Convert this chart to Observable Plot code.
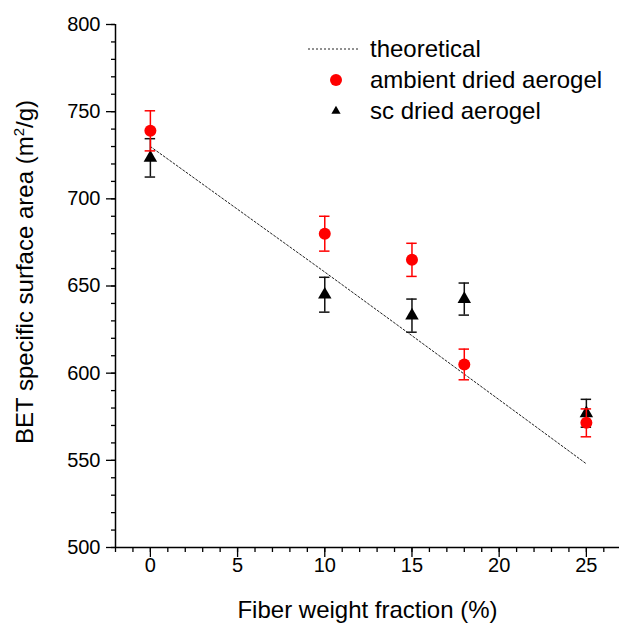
<!DOCTYPE html>
<html>
<head>
<meta charset="utf-8">
<script src="https://cdn.jsdelivr.net/npm/d3@7"></script>
<script src="https://cdn.jsdelivr.net/npm/@observablehq/plot@0.6"></script>
<style>
  html, body { margin: 0; padding: 0; background: #fff; }
  #wrap { position: relative; width: 619px; height: 624px; font-family: "Liberation Sans", Arial, sans-serif; }
  #wrap svg { font-family: "Liberation Sans", Arial, sans-serif; }
  #wrap svg g[aria-label="y-axis label"] text, #wrap svg g[aria-label="x-axis label"] text { font-size: 24px; }
  #legend { position: absolute; left: 300px; top: 33px; font-size: 24px; color: #000; }
  #legend .row { display: flex; align-items: center; height: 31px; }
  #legend svg { width: 66px; height: 20px; }
</style>
</head>
<body>
<div id="wrap"></div>
<script>
// ---- data ----
const fiberFraction = [0, 10, 15, 18, 25];
const ambientArea   = [739, 680, 665, 605, 571.5];
const ambientErr    = [11.5, 10, 9.5, 8.8, 8];
const scArea        = [723.5, 645, 633, 642.5, 577];
const scErr         = [11, 10, 9.5, 9.2, 8];
const theoryX       = [0, 10, 15, 25];
const theoryY       = [730, 658, 621.5, 548];
const xMajorTicks   = [0, 5, 10, 15, 20, 25];
const yMajorTicks   = [500, 550, 600, 650, 700, 750, 800];
const xDomain       = [-2, 26.9];
const yDomain       = [500, 800];

const ambient = fiberFraction.map((x, i) => ({x, y: ambientArea[i], e: ambientErr[i]}));
const sc = fiberFraction.map((x, i) => ({x, y: scArea[i], e: scErr[i]}));
const theory = theoryX.map((x, i) => ({x, y: theoryY[i]}));
const xMinor = d3.range(-2, 27, 1);
const yMinor = d3.range(500, 801, 10);
const capHalf = 0.3;
const red = "#ff0000";

function errMarks(data, color) {
  return [
    Plot.ruleX(data, {x: "x", y1: d => d.y - d.e, y2: d => d.y + d.e, stroke: color, strokeWidth: 1.5}),
    Plot.ruleY(data, {y: d => d.y + d.e, x1: d => d.x - capHalf, x2: d => d.x + capHalf, stroke: color, strokeWidth: 1.5}),
    Plot.ruleY(data, {y: d => d.y - d.e, x1: d => d.x - capHalf, x2: d => d.x + capHalf, stroke: color, strokeWidth: 1.5})
  ];
}

const chart = Plot.plot({
  width: 619,
  height: 624,
  marginLeft: 115,
  marginRight: 0,
  marginTop: 24,
  marginBottom: 77,
  style: {fontFamily: "Liberation Sans, Arial, sans-serif", color: "#000", background: "#fff"},
  x: {domain: xDomain},
  y: {domain: yDomain},
  marks: [
    Plot.axisY(yMinor, {tickSize: 4, tickFormat: () => "", label: null, strokeWidth: 1.3}),
    Plot.axisY(yMajorTicks, {tickSize: 9, tickPadding: 6, strokeWidth: 1.3, fontSize: 20,
      label: "BET specific surface area (m2/g)", labelAnchor: "center", labelArrow: "none", labelOffset: 100}),
    Plot.axisX(xMinor, {tickSize: 5, tickFormat: () => "", label: null, strokeWidth: 1.3}),
    Plot.axisX(xMajorTicks, {tickSize: 10, tickPadding: 0, strokeWidth: 1.3, fontSize: 20,
      label: "Fiber weight fraction (%)", labelAnchor: "center", labelArrow: "none", labelOffset: 70}),
    Plot.ruleX([xDomain[0]], {stroke: "#000", strokeWidth: 1.5}),
    Plot.ruleY([yDomain[0]], {stroke: "#000", strokeWidth: 1.5}),
    Plot.line(theory, {x: "x", y: "y", stroke: "#222", strokeWidth: 1, strokeDasharray: "2,2"}),
    ...errMarks(sc, "#111"),
    Plot.dot(sc, {x: "x", y: "y", symbol: "triangle", r: 5, fill: "#000", stroke: "none"}),
    ...errMarks(ambient, red),
    Plot.dot(ambient, {x: "x", y: "y", symbol: "circle", r: 6, fill: red, stroke: "none"})
  ]
});

// force tick-label size
chart.querySelectorAll('g[aria-label$="tick label"]').forEach(g => {
  g.setAttribute("font-size", "20");
  g.querySelectorAll("text").forEach(t => { t.style.fontSize = "20px"; });
});

// superscript in y-axis label and nudge it to match the reference
const yLab = chart.querySelector('g[aria-label="y-axis label"]');
if (yLab) {
  const t = yLab.querySelector("text");
  if (t) {
    const ns = "http://www.w3.org/2000/svg";
    t.textContent = "";
    const a = document.createElementNS(ns, "tspan"); a.textContent = "BET specific surface area (m";
    const b = document.createElementNS(ns, "tspan"); b.textContent = "2"; b.setAttribute("font-size", "15px"); b.setAttribute("dy", "-9");
    const c = document.createElementNS(ns, "tspan"); c.textContent = "/g)"; c.setAttribute("dy", "9");
    t.append(a, b, c);
  }
  yLab.setAttribute("transform", (yLab.getAttribute("transform") || "") + " translate(0,-14)");
}

const wrap = document.getElementById("wrap");
wrap.appendChild(chart);

const legendItems = [
  {label: "theoretical", kind: "line"},
  {label: "ambient dried aerogel", kind: "circle"},
  {label: "sc dried aerogel", kind: "triangle"}
];
const legend = document.createElement("div");
legend.id = "legend";
for (const item of legendItems) {
  const row = document.createElement("div");
  row.className = "row";
  let sw = "";
  if (item.kind === "line") sw = '<line x1="8" x2="60" y1="10" y2="10" stroke="#222" stroke-width="1" stroke-dasharray="2,2"/>';
  if (item.kind === "circle") sw = '<circle cx="36" cy="10" r="6" fill="' + red + '"/>';
  if (item.kind === "triangle") sw = '<path transform="translate(36,10)" d="' + d3.symbol(d3.symbolTriangle, Math.PI * 4.6 * 4.6 * 0.55)() + '" fill="#000"/>';
  row.innerHTML = '<svg viewBox="0 0 66 20">' + sw + '</svg><span style="margin-left:4px">' + item.label + '</span>';
  legend.appendChild(row);
}
wrap.appendChild(legend);
</script>
</body>
</html>
